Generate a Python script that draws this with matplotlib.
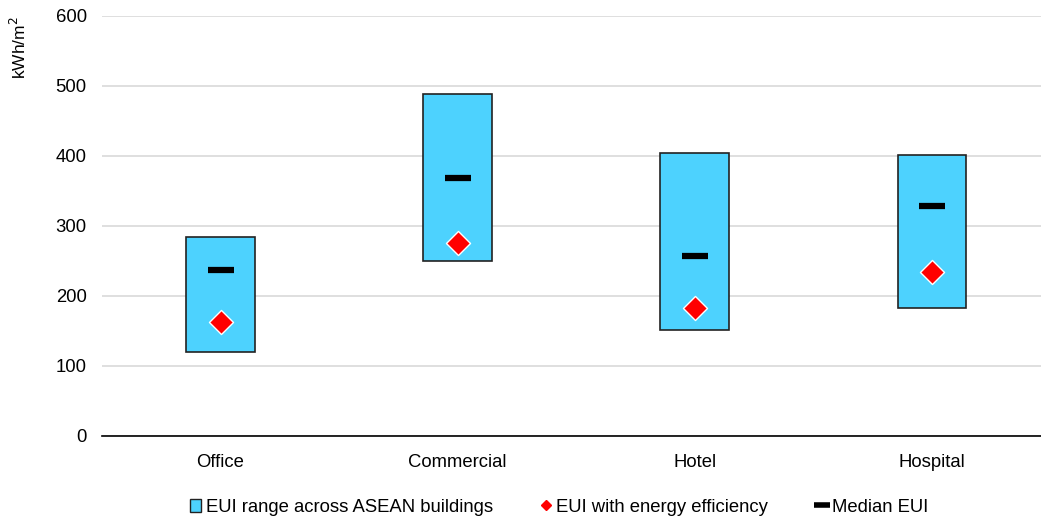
import numpy as np
import matplotlib
matplotlib.use("Agg")
import matplotlib.pyplot as plt
from matplotlib.patches import Rectangle
from matplotlib.lines import Line2D

plt.rcParams["font.family"] = ["Liberation Sans", "DejaVu Sans"]

# Data (kWh/m2)
categories = ["Office", "Commercial", "Hotel", "Hospital"]
eui_low = [120, 250, 151, 183]
eui_high = [284, 489, 404, 401]
eui_median = [237, 369, 257, 329]
eui_efficient = [163, 276, 183, 234]

box_color = "#4dd2fe"
fs = 13.3

fig = plt.figure(figsize=(10.41, 5.22), dpi=100)
ax = fig.add_axes([102 / 1041, 86 / 522, 939 / 1041, 420 / 522])

x = np.arange(len(categories))
w = 0.29
for xi, lo, hi in zip(x, eui_low, eui_high):
    ax.add_patch(Rectangle((xi - w / 2, lo), w, hi - lo, facecolor=box_color,
                           edgecolor="#222222", linewidth=1.2, zorder=3))

ax.scatter(x, eui_median, marker="_", s=360, color="black", linewidths=4.5, zorder=4)
ax.scatter(x, eui_efficient, marker="D", s=150, color="red", edgecolors="white",
           linewidths=1.0, zorder=5)

ax.set_xlim(-0.5, 3.46)
ax.set_ylim(0, 600)
ax.set_yticks(range(0, 601, 100))
ax.set_xticks(x)
ax.set_xticklabels(categories, fontsize=fs)
ax.tick_params(axis="y", labelsize=fs, length=0, pad=11)
ax.tick_params(axis="x", length=0, pad=13)
ax.grid(axis="y", color="#d9d9d9", linewidth=1.2, zorder=0)
ax.set_axisbelow(True)
for s in ["top", "right", "left"]:
    ax.spines[s].set_visible(False)
ax.spines["bottom"].set_color("black")
ax.spines["bottom"].set_linewidth(1.2)
fig.text(19 / 1041, 1 - 48 / 522, "kWh/m$^2$", rotation=90, ha="center",
         va="center", fontsize=12.5)

handles = [
    Rectangle((0, 0), 1, 1, facecolor=box_color, edgecolor="#222222", linewidth=1),
    Line2D([], [], marker="D", color="red", linestyle="none", markersize=5),
    Line2D([], [], marker="_", color="black", linestyle="none", markersize=11,
           markeredgewidth=4),
]
labels = ["EUI range across ASEAN buildings", "EUI with energy efficiency", "Median EUI"]
fig.legend(handles, labels, loc="center", bbox_to_anchor=(0.537, 0.028), ncol=3,
           frameon=False, fontsize=fs, handlelength=0.6, handletextpad=0.25,
           columnspacing=2.6)

fig.savefig("out.png", dpi=100)
